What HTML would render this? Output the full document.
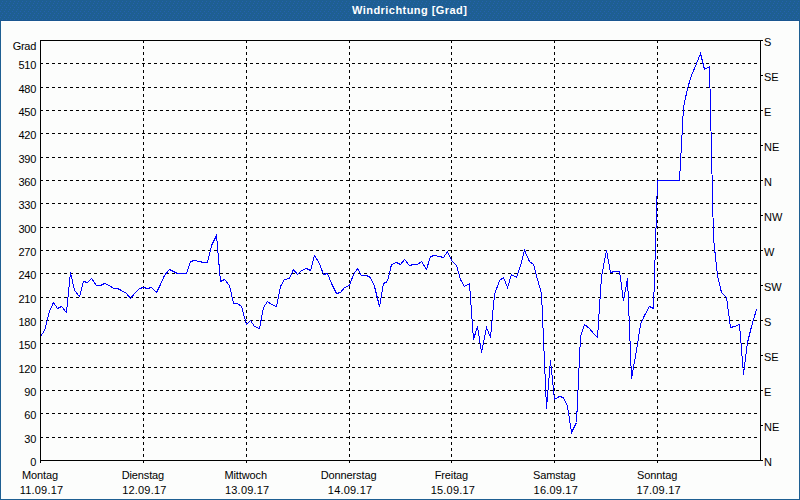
<!DOCTYPE html>
<html><head><meta charset="utf-8"><style>
html,body{margin:0;padding:0;}
body{width:800px;height:500px;overflow:hidden;position:relative;background:#fcfdfc;font-family:"Liberation Sans",sans-serif;}
#frame{position:absolute;left:0;top:0;width:798px;height:498px;border:1px solid #1e5f92;}
#title{position:absolute;left:0;top:0;width:800px;height:21px;background:#1e5f92;}
#title span{position:absolute;left:352px;top:4px;letter-spacing:0.45px;color:#fff;font-weight:bold;font-size:11px;line-height:13px;white-space:nowrap;}
#wl{position:absolute;left:1px;top:21px;width:798px;height:1px;background:#fff;}
svg{position:absolute;left:0;top:0;}
.t{position:absolute;font-size:11px;line-height:13px;color:#000;white-space:nowrap;}
.l{right:764px;text-align:right;letter-spacing:-0.3px;}
.r{left:764px;}
.c{width:100px;text-align:center;line-height:15px;}
.dn{letter-spacing:-0.12px;}
.dt{letter-spacing:0.2px;position:relative;left:1.5px;}
</style></head><body>
<div id="frame"></div>
<div id="title"><svg width="800" height="21" style="position:absolute;left:0;top:0" shape-rendering="crispEdges"><defs><pattern id="dp" x="0" y="0" width="4" height="6" patternUnits="userSpaceOnUse"><rect x="2" y="1" width="1" height="1" fill="#2561ae"/><rect x="1" y="3" width="1" height="1" fill="#2561ae"/><rect x="0" y="5" width="1" height="1" fill="#2561ae"/></pattern></defs><rect width="800" height="20" fill="url(#dp)"/><rect y="20" width="800" height="1" fill="#1a5690"/></svg><span>Windrichtung [Grad]</span></div>
<div id="wl"></div>
<svg width="800" height="500" shape-rendering="crispEdges">
<line x1="40" y1="437.5" x2="760" y2="437.5" stroke="#000" stroke-dasharray="3 3"/>
<line x1="40" y1="413.5" x2="760" y2="413.5" stroke="#000" stroke-dasharray="3 3"/>
<line x1="40" y1="390.5" x2="760" y2="390.5" stroke="#000" stroke-dasharray="3 3"/>
<line x1="40" y1="367.5" x2="760" y2="367.5" stroke="#000" stroke-dasharray="3 3"/>
<line x1="40" y1="343.5" x2="760" y2="343.5" stroke="#000" stroke-dasharray="3 3"/>
<line x1="40" y1="320.5" x2="760" y2="320.5" stroke="#000" stroke-dasharray="3 3"/>
<line x1="40" y1="297.5" x2="760" y2="297.5" stroke="#000" stroke-dasharray="3 3"/>
<line x1="40" y1="273.5" x2="760" y2="273.5" stroke="#000" stroke-dasharray="3 3"/>
<line x1="40" y1="250.5" x2="760" y2="250.5" stroke="#000" stroke-dasharray="3 3"/>
<line x1="40" y1="227.5" x2="760" y2="227.5" stroke="#000" stroke-dasharray="3 3"/>
<line x1="40" y1="203.5" x2="760" y2="203.5" stroke="#000" stroke-dasharray="3 3"/>
<line x1="40" y1="180.5" x2="760" y2="180.5" stroke="#000" stroke-dasharray="3 3"/>
<line x1="40" y1="157.5" x2="760" y2="157.5" stroke="#000" stroke-dasharray="3 3"/>
<line x1="40" y1="133.5" x2="760" y2="133.5" stroke="#000" stroke-dasharray="3 3"/>
<line x1="40" y1="110.5" x2="760" y2="110.5" stroke="#000" stroke-dasharray="3 3"/>
<line x1="40" y1="87.5" x2="760" y2="87.5" stroke="#000" stroke-dasharray="3 3"/>
<line x1="40" y1="63.5" x2="760" y2="63.5" stroke="#000" stroke-dasharray="3 3"/>
<line x1="143.5" y1="40" x2="143.5" y2="463" stroke="#000" stroke-dasharray="3 3"/>
<line x1="246.5" y1="40" x2="246.5" y2="463" stroke="#000" stroke-dasharray="3 3"/>
<line x1="349.5" y1="40" x2="349.5" y2="463" stroke="#000" stroke-dasharray="3 3"/>
<line x1="451.5" y1="40" x2="451.5" y2="463" stroke="#000" stroke-dasharray="3 3"/>
<line x1="554.5" y1="40" x2="554.5" y2="463" stroke="#000" stroke-dasharray="3 3"/>
<line x1="657.5" y1="40" x2="657.5" y2="463" stroke="#000" stroke-dasharray="3 3"/>
<line x1="40" y1="40.5" x2="761" y2="40.5" stroke="#000"/>
<line x1="40" y1="460.5" x2="761" y2="460.5" stroke="#000"/>
<line x1="40.5" y1="40" x2="40.5" y2="463" stroke="#000"/>
<line x1="760.5" y1="40" x2="760.5" y2="461" stroke="#000"/>
<line x1="760" y1="40.5" x2="763" y2="40.5" stroke="#000"/>
<line x1="760" y1="75.5" x2="763" y2="75.5" stroke="#000"/>
<line x1="760" y1="110.5" x2="763" y2="110.5" stroke="#000"/>
<line x1="760" y1="145.5" x2="763" y2="145.5" stroke="#000"/>
<line x1="760" y1="180.5" x2="763" y2="180.5" stroke="#000"/>
<line x1="760" y1="215.5" x2="763" y2="215.5" stroke="#000"/>
<line x1="760" y1="250.5" x2="763" y2="250.5" stroke="#000"/>
<line x1="760" y1="285.5" x2="763" y2="285.5" stroke="#000"/>
<line x1="760" y1="320.5" x2="763" y2="320.5" stroke="#000"/>
<line x1="760" y1="355.5" x2="763" y2="355.5" stroke="#000"/>
<line x1="760" y1="390.5" x2="763" y2="390.5" stroke="#000"/>
<line x1="760" y1="425.5" x2="763" y2="425.5" stroke="#000"/>
<line x1="760" y1="460.5" x2="763" y2="460.5" stroke="#000"/>
<polyline points="40.5,336.5 44.5,330.5 49.5,311.5 53.5,302.5 57.5,308.5 61.5,306.5 66.5,312.5 70.5,272.5 74.5,290.5 79.5,296.5 83.5,281.5 87.5,282.5 91.5,278.5 96.5,285.5 100.5,285.5 104.5,283.5 109.5,285.5 113.5,288.5 117.5,288.5 121.5,290.5 126.5,293.5 130.5,298.5 134.5,293.5 139.5,288.5 143.5,287.5 147.5,288.5 151.5,287.5 156.5,292.5 160.5,284.5 164.5,275.5 169.5,269.5 173.5,271.5 177.5,273.5 181.5,273.5 186.5,273.5 190.5,261.5 194.5,260.5 199.5,261.5 203.5,262.5 207.5,262.5 211.5,245.5 216.5,235.5 220.5,281.5 224.5,279.5 229.5,285.5 233.5,303.5 237.5,303.5 241.5,306.5 246.5,324.5 250.5,320.5 254.5,326.5 259.5,328.5 263.5,307.5 267.5,301.5 271.5,304.5 276.5,306.5 280.5,286.5 284.5,279.5 289.5,278.5 293.5,269.5 297.5,274.5 301.5,270.5 306.5,268.5 310.5,270.5 314.5,255.5 319.5,263.5 323.5,274.5 327.5,273.5 331.5,283.5 336.5,293.5 340.5,292.5 344.5,287.5 349.5,285.5 353.5,274.5 357.5,268.5 361.5,275.5 366.5,275.5 370.5,277.5 374.5,286.5 379.5,306.5 383.5,283.5 387.5,281.5 391.5,264.5 396.5,262.5 400.5,264.5 404.5,259.5 409.5,265.5 413.5,264.5 417.5,264.5 421.5,261.5 426.5,269.5 430.5,256.5 434.5,255.5 439.5,256.5 443.5,257.5 447.5,251.5 451.5,260.5 456.5,265.5 460.5,279.5 464.5,286.5 469.5,283.5 473.5,339.5 477.5,326.5 481.5,352.5 486.5,327.5 490.5,337.5 494.5,294.5 499.5,280.5 503.5,277.5 507.5,287.5 511.5,274.5 516.5,277.5 520.5,265.5 524.5,250.5 529.5,261.5 533.5,264.5 537.5,279.5 541.5,293.5 546.5,408.5 550.5,360.5 554.5,399.5 559.5,396.5 563.5,397.5 567.5,406.5 571.5,432.5 576.5,422.5 580.5,336.5 584.5,324.5 589.5,328.5 593.5,333.5 597.5,337.5 601.5,276.5 606.5,250.5 610.5,272.5 614.5,271.5 619.5,271.5 623.5,300.5 627.5,278.5 631.5,378.5 636.5,350.5 640.5,324.5 644.5,315.5 649.5,306.5 653.5,308.5 657.5,180.5 661.5,180.5 666.5,180.5 670.5,180.5 674.5,180.5 679.5,180.5 683.5,107.5 687.5,88.5 691.5,75.5 696.5,63.5 700.5,53.5 704.5,69.5 709.5,66.5 713.5,238.5 717.5,275.5 721.5,292.5 726.5,297.5 730.5,327.5 734.5,326.5 739.5,324.5 743.5,374.5 747.5,342.5 751.5,326.5 756.5,309.5" fill="none" stroke="#00f"/>
</svg>
<div class="t l" style="top:40px">Grad</div>
<div class="t l" style="top:433px">30</div>
<div class="t l" style="top:409px">60</div>
<div class="t l" style="top:386px">90</div>
<div class="t l" style="top:363px">120</div>
<div class="t l" style="top:339px">150</div>
<div class="t l" style="top:316px">180</div>
<div class="t l" style="top:293px">210</div>
<div class="t l" style="top:269px">240</div>
<div class="t l" style="top:246px">270</div>
<div class="t l" style="top:223px">300</div>
<div class="t l" style="top:199px">330</div>
<div class="t l" style="top:176px">360</div>
<div class="t l" style="top:153px">390</div>
<div class="t l" style="top:129px">420</div>
<div class="t l" style="top:106px">450</div>
<div class="t l" style="top:83px">480</div>
<div class="t l" style="top:59px">510</div>
<div class="t l" style="top:456px">0</div>
<div class="t r" style="top:36px">S</div>
<div class="t r" style="top:71px">SE</div>
<div class="t r" style="top:106px">E</div>
<div class="t r" style="top:141px">NE</div>
<div class="t r" style="top:176px">N</div>
<div class="t r" style="top:211px">NW</div>
<div class="t r" style="top:246px">W</div>
<div class="t r" style="top:281px">SW</div>
<div class="t r" style="top:316px">S</div>
<div class="t r" style="top:351px">SE</div>
<div class="t r" style="top:386px">E</div>
<div class="t r" style="top:421px">NE</div>
<div class="t r" style="top:456px">N</div>
<div class="t c" style="left:-10.00px;top:468px"><span class="dn">Montag</span><br><span class="dt">11.09.17</span></div>
<div class="t c" style="left:92.86px;top:468px"><span class="dn">Dienstag</span><br><span class="dt">12.09.17</span></div>
<div class="t c" style="left:195.71px;top:468px"><span class="dn">Mittwoch</span><br><span class="dt">13.09.17</span></div>
<div class="t c" style="left:298.57px;top:468px"><span class="dn">Donnerstag</span><br><span class="dt">14.09.17</span></div>
<div class="t c" style="left:401.43px;top:468px"><span class="dn">Freitag</span><br><span class="dt">15.09.17</span></div>
<div class="t c" style="left:504.29px;top:468px"><span class="dn">Samstag</span><br><span class="dt">16.09.17</span></div>
<div class="t c" style="left:607.14px;top:468px"><span class="dn">Sonntag</span><br><span class="dt">17.09.17</span></div>
</body></html>
